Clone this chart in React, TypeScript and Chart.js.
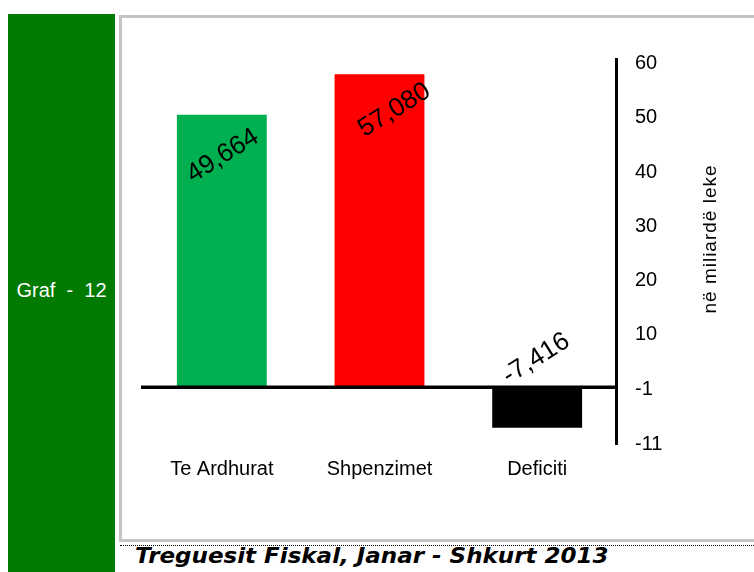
import React, { useEffect, useRef } from "react";
import { Chart, registerables } from "chart.js";

Chart.register(...registerables);

const categories = ["Te Ardhurat", "Shpenzimet", "Deficiti"];
const values = [49.664, 57.08, -7.416];
const barColors = ["#00B050", "#FF0000", "#000000"];
const tickValues = [-10.4, -0.5, 9.5, 19.4, 29.3, 39.2, 49.2, 59.1];
const tickLabels = ["-11", "-1", "10", "20", "30", "40", "50", "60"];
const axisTitle = "në miliardë leke";
const sideLabel = "Graf  -  12";
const footerTitle = "Treguesit Fiskal, Janar - Shkurt 2013";

const FONT = "'Liberation Sans', Arial, sans-serif";
const labelOffsets = [
  [1, 41],
  [15, 36],
  [-1, -69],
];

const overlayPlugin = {
  id: "overlay",
  afterDatasetsDraw(chart: any) {
    const { ctx, chartArea, scales } = chart;
    const y0 = scales.y.getPixelForValue(0);
    ctx.save();
    ctx.fillStyle = "#000";
    ctx.fillRect(chartArea.left - 2, y0 - 1.5, chartArea.right - chartArea.left + 2, 3.5);

    const meta = chart.getDatasetMeta(0);
    ctx.font = `26px ${FONT}`;
    ctx.textAlign = "center";
    ctx.textBaseline = "middle";
    meta.data.forEach((bar: any, i: number) => {
      const [dx, dy] = labelOffsets[i];
      ctx.save();
      ctx.translate(bar.x + dx, bar.y + dy);
      ctx.rotate((-32 * Math.PI) / 180);
      ctx.fillStyle = "#000";
      ctx.fillText(values[i].toFixed(3).replace(".", ","), 0, 0);
      ctx.restore();
    });

    ctx.save();
    ctx.font = `19px ${FONT}`;
    (ctx as any).letterSpacing = "1px";
    ctx.translate(chartArea.right + 95, chartArea.top + 180);
    ctx.rotate(-Math.PI / 2);
    ctx.textAlign = "center";
    ctx.textBaseline = "middle";
    ctx.fillStyle = "#000";
    ctx.fillText(axisTitle, 0, 0);
    ctx.restore();
    ctx.restore();
  },
};

export default function App() {
  const canvasRef = useRef<HTMLCanvasElement | null>(null);

  useEffect(() => {
    if (!canvasRef.current) return;
    const chart = new Chart(canvasRef.current, {
      type: "bar",
      data: {
        labels: categories,
        datasets: [
          {
            data: values,
            backgroundColor: barColors,
            borderWidth: 0,
            categoryPercentage: 1,
            barPercentage: 0.57,
          },
        ],
      },
      options: {
        animation: false,
        responsive: false,
        maintainAspectRatio: false,
        layout: { padding: { left: 21, top: 41, right: 0, bottom: 0 } },
        plugins: { legend: { display: false }, tooltip: { enabled: false } },
        scales: {
          x: {
            grid: { display: false, drawTicks: false },
            border: { display: false },
            ticks: {
              color: "#000",
              font: { family: FONT, size: 20 },
              padding: 13,
              maxRotation: 0,
            },
            afterFit(s: any) {
              s.height = 94;
            },
          },
          y: {
            position: "right",
            min: -10.4,
            max: 59.85,
            afterBuildTicks(s: any) {
              s.ticks = tickValues.map((v) => ({ value: v }));
            },
            ticks: {
              autoSkip: false,
              callback: (_v: any, i: number) => tickLabels[i],
              color: "#000",
              font: { family: FONT, size: 20 },
              padding: 19,
            },
            grid: { display: false, drawTicks: false },
            border: { display: true, color: "#000", width: 3 },
            afterFit(s: any) {
              s.width = 138;
            },
          },
        },
      },
      plugins: [overlayPlugin],
    } as any);
    return () => chart.destroy();
  }, []);

  return (
    <div
      style={{
        position: "fixed",
        left: 0,
        top: 0,
        width: 754,
        height: 572,
        overflow: "hidden",
        background: "#fff",
        fontFamily: FONT,
      }}
    >
      <div
        style={{
          position: "absolute",
          left: 8,
          top: 14,
          width: 107,
          height: 560,
          background: "#007A00",
        }}
      >
        <div
          style={{
            position: "absolute",
            left: 0,
            right: 0,
            top: 266,
            textAlign: "center",
            color: "#fff",
            fontSize: 20,
            lineHeight: "20px",
            whiteSpace: "pre",
          }}
        >
          {sideLabel}
        </div>
      </div>
      <div
        style={{
          position: "absolute",
          left: 119,
          top: 15,
          width: 660,
          height: 527,
          border: "3px solid #c4c4c4",
          boxSizing: "border-box",
          background: "#fff",
        }}
      />
      <canvas
        ref={canvasRef}
        width={632}
        height={520}
        style={{ position: "absolute", left: 122, top: 18, width: 632, height: 520 }}
      />
      <div
        style={{
          position: "absolute",
          left: 120,
          top: 545,
          width: 640,
          height: 0,
          borderTop: "1px dotted #000",
        }}
      />
      <div
        style={{
          position: "absolute",
          left: 135,
          top: 545,
          fontFamily: "'DejaVu Sans', Verdana, sans-serif",
          fontWeight: "bold",
          fontStyle: "italic",
          fontSize: 22,
          lineHeight: "22px",
          whiteSpace: "nowrap",
          color: "#000",
          transformOrigin: "0 0",
          transform: "scaleX(1.045)",
        }}
      >
        {footerTitle}
      </div>
    </div>
  );
}
